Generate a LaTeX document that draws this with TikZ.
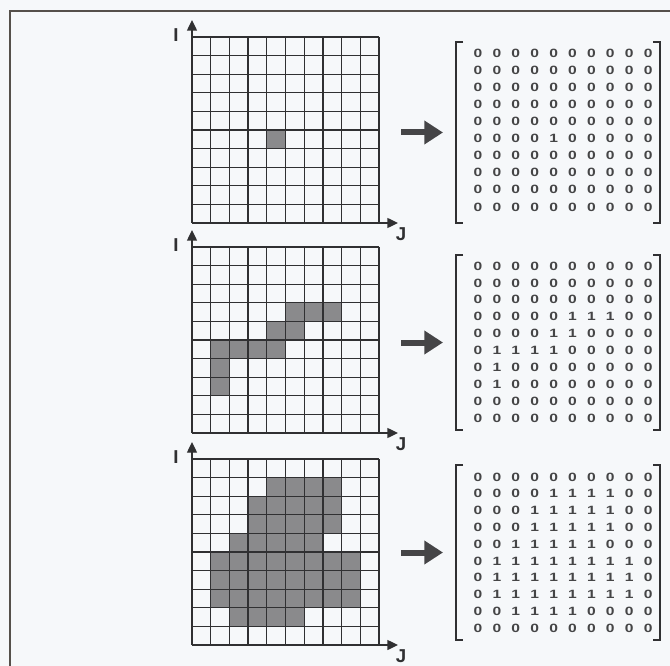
\documentclass[tikz,border=0pt]{standalone}
\usepackage{fontspec}
\setmainfont{Liberation Sans}
\usetikzlibrary{arrows.meta}
\definecolor{bg}{RGB}{246,248,250}
\definecolor{ink}{RGB}{48,48,50}
\definecolor{frame}{RGB}{85,80,75}
\definecolor{shade}{RGB}{138,138,140}
\tikzset{
  gridline/.style={draw=ink, line width=1pt},
  axisline/.style={draw=ink, line width=1pt, -{Triangle[length=8pt,width=7.5pt]}},
  bigarrow/.style={draw=ink!90, line width=4.5pt, -{Triangle[length=14pt,width=17pt]}},
  bracketline/.style={draw=ink, line width=2.2pt, line cap=butt, line join=miter},
  digit/.style={inner sep=0pt, text=ink!90, font=\fontsize{9}{10}\selectfont\bfseries},
  axislabel/.style={inner sep=0pt, text=ink, font=\fontsize{14}{14}\selectfont\bfseries},
  cell/.style={fill=shade}
}
% #1 name, #2 grid top, #3 bracket top, #4 bracket bottom, #5 first digit row y, #6 row step, #7 data
\newcommand\gridblock[7]{%
  \foreach \r [count=\i from 0] in {#7} {
    \foreach \v [count=\j from 0] in \r {
      \ifnum\v=1 \fill[cell] ({192+18.7*\j},{#2+18.6*\i}) rectangle ++(18.7,18.6);\fi
      \node[digit] (#1m\i\j) at ({478+18.9*\j},{#5+#6*\i}) {\scalebox{1.3}[1]{\v}};
    }
  }
  \foreach \k in {0,...,10} {
    \draw[gridline] ({192+18.7*\k},#2) -- ++(0,186);
    \draw[gridline] (192,{#2+18.6*\k}) -- ++(187,0);
  }
  \coordinate (#1o) at (192,{#2+186});
  \coordinate (#1itip) at (192,{#2-17});
  \coordinate (#1jtip) at (398,{#2+186});
  \draw[axisline] (#1o) -- (#1itip);
  \draw[axisline] (#1o) -- (#1jtip);
  \node[axislabel] (#1I) at (176,{#2-2}) {I};
  \node[axislabel] (#1J) at (401,{#2+197}) {J};
  \coordinate (#1as) at (401,{(#3+#4)/2});
  \coordinate (#1ae) at (443,{(#3+#4)/2});
  \draw[bigarrow] (#1as) -- (#1ae);
  \draw[bracketline] (463,#3) -- (456,#3) -- (456,#4) -- (463,#4);
  \draw[bracketline] (653,#3) -- (660,#3) -- (660,#4) -- (653,#4);
}
\begin{document}
\begin{tikzpicture}[x=0.75pt,y=-0.75pt]
\useasboundingbox (0,0) rectangle (670,666);
\clip (0,0) rectangle (670,666);
\fill[bg] (0,0) rectangle (670,666);
\draw[draw=frame, line width=2.2pt] (10,700) -- (10,11) -- (700,11);
\gridblock{a}{37}{42}{223}{53}{17.1}{
 {0,0,0,0,0,0,0,0,0,0},
 {0,0,0,0,0,0,0,0,0,0},
 {0,0,0,0,0,0,0,0,0,0},
 {0,0,0,0,0,0,0,0,0,0},
 {0,0,0,0,0,0,0,0,0,0},
 {0,0,0,0,1,0,0,0,0,0},
 {0,0,0,0,0,0,0,0,0,0},
 {0,0,0,0,0,0,0,0,0,0},
 {0,0,0,0,0,0,0,0,0,0},
 {0,0,0,0,0,0,0,0,0,0}}
\gridblock{b}{247}{255}{430}{266}{16.9}{
 {0,0,0,0,0,0,0,0,0,0},
 {0,0,0,0,0,0,0,0,0,0},
 {0,0,0,0,0,0,0,0,0,0},
 {0,0,0,0,0,1,1,1,0,0},
 {0,0,0,0,1,1,0,0,0,0},
 {0,1,1,1,1,0,0,0,0,0},
 {0,1,0,0,0,0,0,0,0,0},
 {0,1,0,0,0,0,0,0,0,0},
 {0,0,0,0,0,0,0,0,0,0},
 {0,0,0,0,0,0,0,0,0,0}}
\gridblock{c}{459}{465}{640}{477}{16.8}{
 {0,0,0,0,0,0,0,0,0,0},
 {0,0,0,0,1,1,1,1,0,0},
 {0,0,0,1,1,1,1,1,0,0},
 {0,0,0,1,1,1,1,1,0,0},
 {0,0,1,1,1,1,1,0,0,0},
 {0,1,1,1,1,1,1,1,1,0},
 {0,1,1,1,1,1,1,1,1,0},
 {0,1,1,1,1,1,1,1,1,0},
 {0,0,1,1,1,1,0,0,0,0},
 {0,0,0,0,0,0,0,0,0,0}}
\end{tikzpicture}
\end{document}
